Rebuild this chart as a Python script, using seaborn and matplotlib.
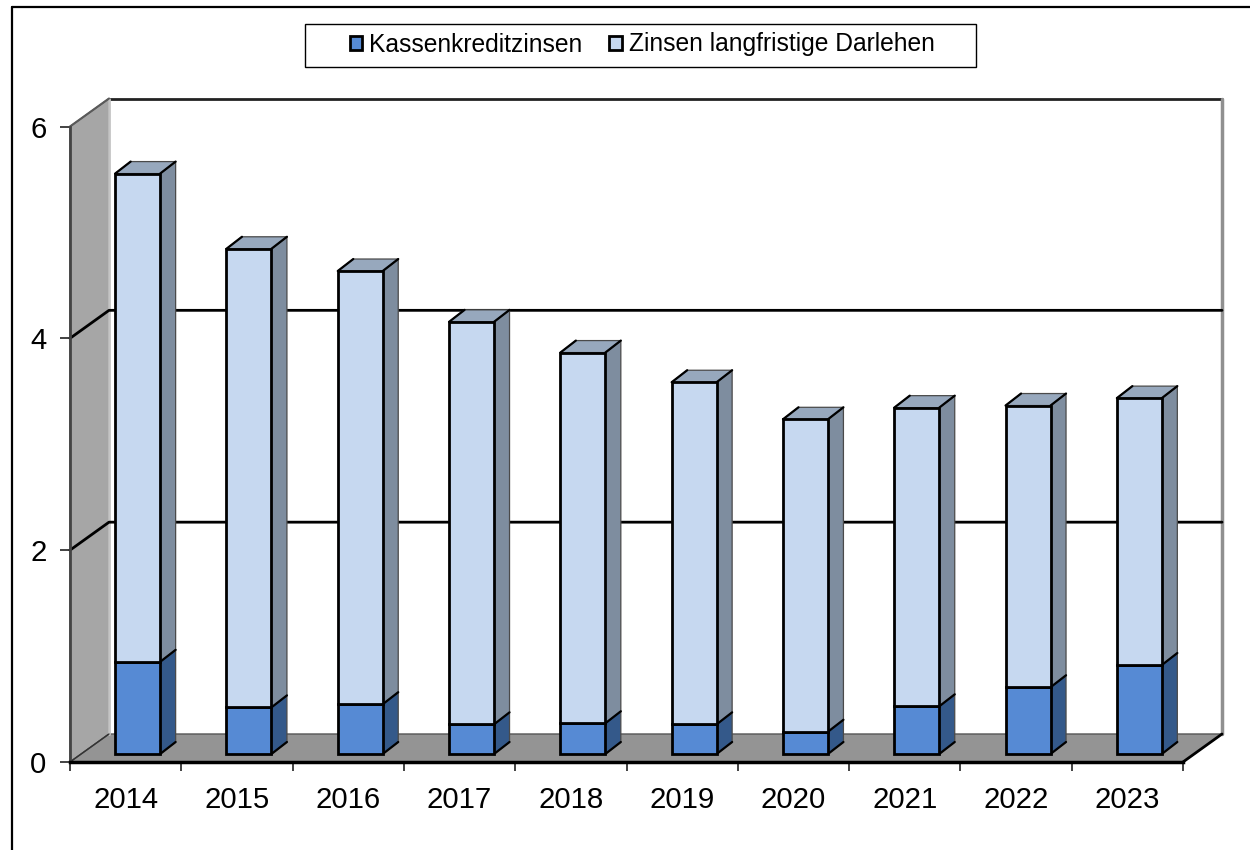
#Import packages
import numpy as np
import seaborn as sns
import matplotlib
matplotlib.use("Agg")
import matplotlib.pyplot as plt
from matplotlib.lines import Line2D
from matplotlib.patches import Patch, Polygon, Rectangle
from matplotlib.transforms import Affine2D, IdentityTransform

#========================================================================================================
# Data
#========================================================================================================

years = ['2014','2015','2016','2017','2018','2019','2020','2021','2022','2023']
kassenkredit = [0.87,0.44,0.47,0.28,0.29,0.28,0.21,0.45,0.63,0.84]
langfristig = [4.61,4.33,4.09,3.80,3.50,3.23,2.95,2.82,2.66,2.52]
y_ticks = [0,2,4,6]
legend_labels = ['Kassenkreditzinsen','Zinsen langfristige Darlehen']

#========================================================================================================
# Settings
#========================================================================================================

W, H = 1250, 850

#Colors
dark_front, dark_side = '#568ad4', '#34598a'
light_front, light_side, light_top = '#c6d8f0', '#7e8d9f', '#97a8bd'
wall_color, floor_color = '#a6a6a6', '#949494'

#Depth of the chart box and of the bars, in pixels
box_dx, box_dy = 39, 28
bar_dx, bar_dy = 15.5, 12
bar_shift = (12, 8)

sns.set_theme(style='white')
plt.rcParams['font.family'] = ['Liberation Sans', 'DejaVu Sans']

#========================================================================================================
# Create plot
#========================================================================================================

fig = plt.figure(figsize=(W/100,H/100),dpi=100,facecolor='white')
ax = fig.add_axes([70/W,(H-762)/H,1113/W,635.5/H])
ax.patch.set_alpha(0)

#Stacked bars
sns.barplot(x=years,y=kassenkredit,color=dark_front,saturation=1,width=0.404,
            edgecolor='black',linewidth=2,ax=ax,zorder=5)
n_dark = len(ax.patches)
sns.barplot(x=years,y=langfristig,bottom=kassenkredit,color=light_front,saturation=1,width=0.404,
            edgecolor='black',linewidth=2,ax=ax,zorder=5)
bars = list(ax.patches)

ax.set_xlim(-0.5,len(years)-0.5)
ax.set_ylim(0,6)

#Function returning pixel position of a data point, pushed back by (dx,dy) pixels
def px(x,y,dx=0,dy=0):
    p = ax.transData.transform((x,y))
    return (p[0]+dx,p[1]+dy)

def add_poly(points,color,z,edge='black',lw=2):
    ax.add_patch(Polygon(points,closed=True,facecolor=color,edgecolor=edge,linewidth=lw,
                         transform=IdentityTransform(),zorder=z,clip_on=False,joinstyle='round'))

def add_line(points,color,lw,z=2):
    ax.add_line(Line2D(*zip(*points),color=color,lw=lw,transform=IdentityTransform(),zorder=z,clip_on=False))

x0, x1 = ax.get_xlim()

#Left wall and floor
add_poly([px(x0,0),px(x0,6),px(x0,6,box_dx,box_dy),px(x0,0,box_dx,box_dy)],wall_color,1,edge='#555555',lw=1)
add_poly([px(x0,0),px(x1,0),px(x1,0,box_dx,box_dy),px(x0,0,box_dx,box_dy)],floor_color,1,edge='#555555',lw=1)

#Back wall edges
add_line([px(x0,6,box_dx,box_dy),px(x1,6,box_dx,box_dy)],'#222222',2)
add_line([px(x1,6,box_dx,box_dy),px(x1,0,box_dx,box_dy)],'#909090',2.5)
add_line([px(x0,6,box_dx,box_dy),px(x0,0,box_dx,box_dy)],'#c4c4c4',2)

#Right slant of the floor
add_line([px(x1,0),px(x1,0,box_dx,box_dy)],'black',2)

#Gridlines running over the left wall and along the back wall
for val in y_ticks:
    if val == 0:
        add_line([px(x0,val),px(x0,val,box_dx,box_dy)],'#333333',1)
    elif val == 6:
        add_line([px(x0,val),px(x0,val,box_dx,box_dy)],'#5a5a5a',1.5)
    else:
        add_line([px(x0,val),px(x0,val,box_dx,box_dy),px(x1,val,box_dx,box_dy)],'black',2)

#Move bars off the front plane and add their side and top faces
sx, sy = bar_shift
for i,bar in enumerate(bars):
    is_dark = i < n_dark
    left, right = bar.get_x(), bar.get_x()+bar.get_width()
    low, high = bar.get_y(), bar.get_y()+bar.get_height()
    bar.set_transform(ax.transData + Affine2D().translate(sx,sy))
    bar.set_clip_on(False)
    side = dark_side if is_dark else light_side
    add_poly([px(right,low,sx,sy),px(right,high,sx,sy),px(right,high,sx+bar_dx,sy+bar_dy),
              px(right,low,sx+bar_dx,sy+bar_dy)],side,4,edge='#4a4a4a',lw=0.9)
    if is_dark:
        add_line([px(right,low,sx,sy),px(right,low,sx+bar_dx,sy+bar_dy)],'black',1.6,z=4.5)
    else:
        add_poly([px(left,high,sx,sy),px(right,high,sx,sy),px(right,high,sx+bar_dx,sy+bar_dy),
                  px(left,high,sx+bar_dx,sy+bar_dy)],light_top,4,edge='#4a4a4a',lw=0.9)
        add_line([px(left,high,sx,sy),px(left,high,sx+bar_dx,sy+bar_dy)],'black',1.6,z=4.5)
    add_line([px(right,high,sx,sy),px(right,high,sx+bar_dx,sy+bar_dy)],'black',1.6,z=4.5)

#Axes formatting
sns.despine(ax=ax,top=True,right=True)
ax.spines['left'].set(color='#444444',linewidth=2,zorder=3)
ax.spines['bottom'].set(color='black',linewidth=2.5,zorder=3)
ax.set_yticks(y_ticks)
ax.set_xticks(np.arange(len(years)+1)-0.5,minor=True)
ax.tick_params(axis='x',which='major',length=0,labelsize=21.2,pad=17,labelcolor='black')
ax.tick_params(axis='x',which='minor',bottom=True,length=6.5,width=1.2,color='#222222')
ax.tick_params(axis='y',left=True,length=7,width=1.2,color='#222222',labelsize=21.2,pad=10,labelcolor='black')
ax.set_xlabel('')
ax.set_ylabel('')

#Legend box and legend
fig.add_artist(Rectangle((305/W,(H-67)/H),671/W,43/H,transform=fig.transFigure,facecolor='white',
                         edgecolor='black',linewidth=1))
handles = [Patch(facecolor=dark_front,edgecolor='black',linewidth=2),
           Patch(facecolor=light_front,edgecolor='black',linewidth=2)]
fig.legend(handles,legend_labels,loc='center left',bbox_to_anchor=(349.5/W,(H-44.5)/H),ncol=2,fontsize=17.7,
           frameon=False,labelcolor='black',handlelength=0.5,handleheight=0.5,handletextpad=0.3,
           columnspacing=1.09,borderpad=0,borderaxespad=0,labelspacing=0)

#Outer frame (top and left only)
fig.add_artist(Line2D([12/W,12/W],[0,(H-6.5)/H],color='black',lw=1.6))
fig.add_artist(Line2D([12/W,1],[(H-6.5)/H,(H-6.5)/H],color='black',lw=1.6))

plt.savefig('out.png',dpi=100)
plt.close()
